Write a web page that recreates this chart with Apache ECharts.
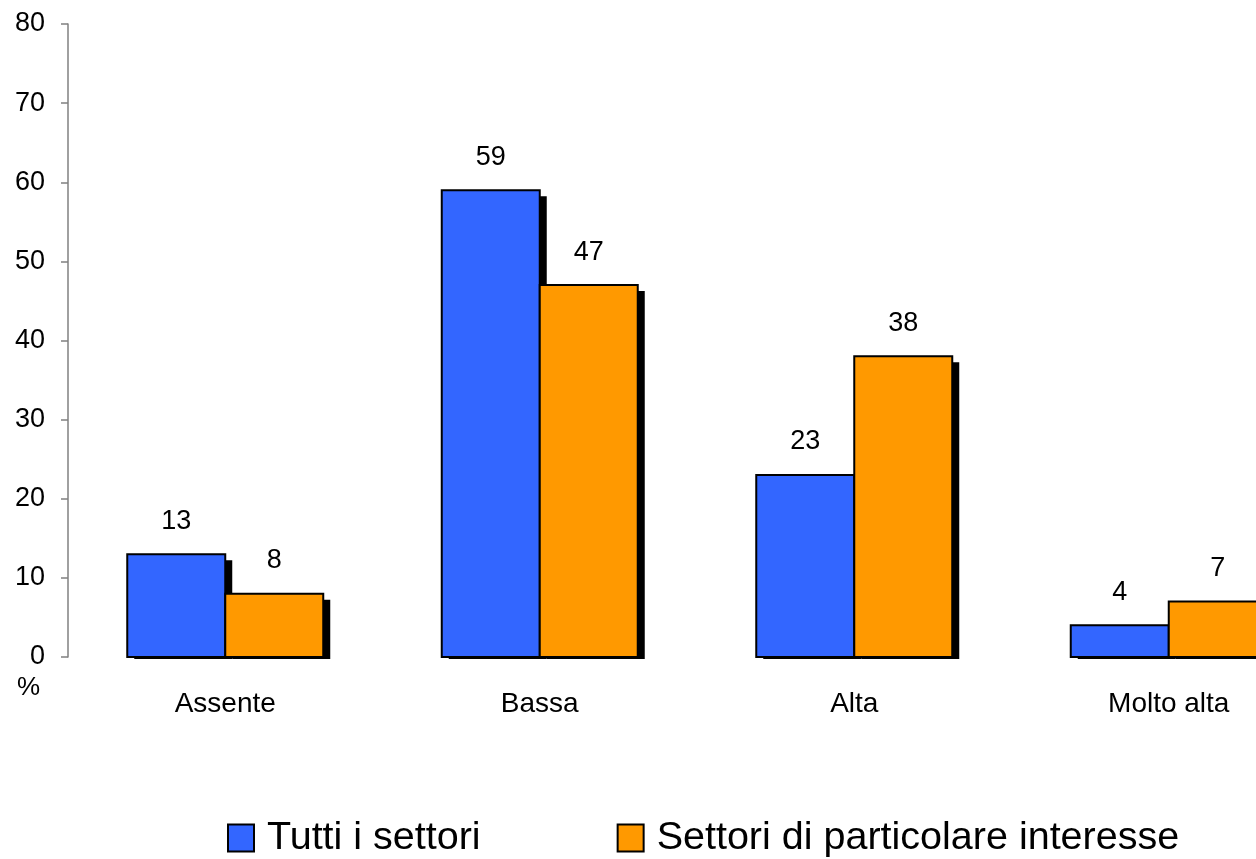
<!DOCTYPE html>
<html>
<head>
<meta charset="utf-8">
<script src="https://cdn.jsdelivr.net/npm/echarts@6/dist/echarts.min.js"></script>
<style>html,body{margin:0;padding:0;background:#fff;overflow:hidden;}#c{width:1330px;height:859px;}</style>
</head>
<body>
<div id="c"></div>
<script>
const categories = ['Assente', 'Bassa', 'Alta', 'Molto alta'];
const seriesNames = ['Tutti i settori', 'Settori di particolare interesse'];
const tuttiSettori = [13, 59, 23, 4];
const settoriInteresse = [8, 47, 38, 7];
const yTicks = { min: 0, max: 80, interval: 10 };

const FONT = 'Liberation Sans';
const BAR_W = 98;
const chart = echarts.init(document.getElementById('c'), null, { renderer: 'canvas' });

function barSeries(name, values, color, side) {
  return {
    name: name,
    type: 'custom',
    itemStyle: { color: color },
    encode: { x: 0, y: 1 },
    data: values.map(function (v, i) { return [i, v]; }),
    renderItem: function (params, api) {
      const ci = api.value(0), v = api.value(1);
      const p0 = api.coord([ci, 0]);
      const p1 = api.coord([ci, v]);
      const x = side === 0 ? p0[0] - BAR_W : p0[0];
      const h = p0[1] - p1[1];
      return {
        type: 'group',
        children: [
          { type: 'rect', shape: { x: x + 7, y: p1[1] + 6, width: BAR_W, height: h - 4 }, style: { fill: '#000' } },
          { type: 'rect', shape: { x: x, y: p1[1], width: BAR_W, height: h }, style: { fill: color, stroke: '#000', lineWidth: 2 } },
          { type: 'text', style: { text: String(v), x: x + BAR_W / 2, y: p1[1] - 33, align: 'center', verticalAlign: 'middle', fontFamily: FONT, fontSize: 27, fill: '#000' } }
        ]
      };
    }
  };
}

chart.setOption({
  animation: false,
  backgroundColor: '#fff',
  grid: { left: 68, top: 24, width: 1258, height: 633 },
  legend: {
    data: seriesNames,
    left: 227,
    top: 818,
    padding: 0,
    icon: 'rect',
    itemWidth: 26,
    itemHeight: 27,
    itemGap: 136,
    textStyle: { fontFamily: FONT, fontSize: 39.5, color: '#000', lineHeight: 40, padding: [0, 0, 0, 8] },
    itemStyle: { borderColor: '#000', borderWidth: 2 }
  },
  xAxis: {
    type: 'category',
    data: categories,
    axisLine: { show: false },
    axisTick: { show: false },
    axisLabel: { margin: 33, color: '#000', fontFamily: FONT, fontSize: 28 }
  },
  yAxis: {
    type: 'value',
    min: yTicks.min,
    max: yTicks.max,
    interval: yTicks.interval,
    splitLine: { show: false },
    axisLine: { show: true, lineStyle: { color: '#808080', width: 1.5 } },
    axisTick: { show: true, inside: false, length: 7, lineStyle: { color: '#808080', width: 1.5 } },
    axisLabel: { margin: 23, color: '#000', fontFamily: FONT, fontSize: 27 }
  },
  graphic: [{
    type: 'text',
    left: 17,
    top: 675,
    style: { text: '%', fontFamily: FONT, fontSize: 26, fill: '#000' }
  }],
  series: [
    barSeries(seriesNames[0], tuttiSettori, '#3366FF', 0),
    barSeries(seriesNames[1], settoriInteresse, '#FF9900', 1)
  ]
});
</script>
</body>
</html>
